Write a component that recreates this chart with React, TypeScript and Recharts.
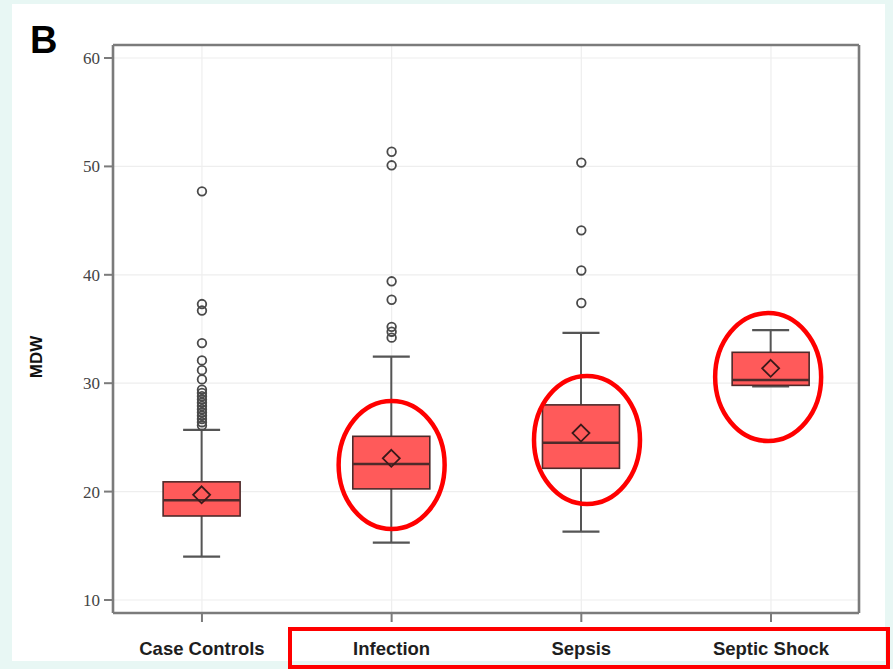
import React from 'react';
import {
  ComposedChart,
  Bar,
  Scatter,
  XAxis,
  YAxis,
  CartesianGrid,
  ReferenceLine,
  ReferenceDot,
} from 'recharts';

// Groups and five-number summaries of MDW
const categories = ['Case Controls', 'Infection', 'Sepsis', 'Septic Shock'];
const whiskerLow = [14.0, 15.3, 16.3, 29.7];
const q1 = [17.75, 20.25, 22.15, 29.8];
const medians = [19.2, 22.55, 24.5, 30.3];
const q3 = [20.9, 25.1, 28.0, 32.85];
const whiskerHigh = [25.7, 32.45, 34.65, 34.9];
const means = [19.7, 23.07, 25.4, 31.37];

// Outlying observations per group
const controlOutliers = [
  26.1, 26.4, 26.7, 27.0, 27.3, 27.6, 27.9, 28.2, 28.5, 28.8, 29.1, 29.4,
  30.35, 31.2, 32.1, 33.7, 36.7, 37.3, 47.7,
];
const infectionOutliers = [34.2, 34.75, 35.2, 37.7, 39.4, 50.1, 51.35];
const sepsisOutliers = [37.4, 40.4, 44.1, 50.35];
const shockOutliers: number[] = [];

const yTicks = [10, 20, 30, 40, 50, 60];

// Highlighted groups (circled) and where each ring sits
const highlightGroups = ['Infection', 'Sepsis', 'Septic Shock'];
const highlightCenters = [22.45, 24.76, 30.57];
const highlightShift = [0, 0.03, -0.015];

const Y_MIN = 8.8;
const Y_MAX = 61.2;
const X_MIN = 0.531;
const X_MAX = 4.464;

const boxData = categories.map((name, i) => ({
  name,
  pos: i + 1,
  lo: whiskerLow[i],
  q1: q1[i],
  med: medians[i],
  q3: q3[i],
  hi: whiskerHigh[i],
  mean: means[i],
}));

const outlierData = [controlOutliers, infectionOutliers, sepsisOutliers, shockOutliers].flatMap(
  (list, i) => list.map((value) => ({ pos: i + 1, value }))
);

const highlightData = highlightGroups.map((g, i) => ({
  pos: categories.indexOf(g) + 1 + highlightShift[i],
  value: highlightCenters[i],
}));

const FRAME = '#7b7b7b';
const BOX_FILL = '#ff5a5a';
const BOX_EDGE = '#4e2a2a';
const WHISKER = '#555555';

const BoxShape = (props: any) => {
  const { x, y, width, height, payload } = props;
  if (!payload || height == null) return null;
  const hi = payload.hi;
  const lo = payload.lo;
  const toPx = (v: number) => y + ((hi - v) / (hi - lo)) * height;
  const cx = x + width / 2;
  const capHalf = 18.5;
  const yTop = toPx(payload.q3);
  const yBot = toPx(payload.q1);
  const yMed = toPx(payload.med);
  const yMean = toPx(payload.mean);
  const yHi = toPx(hi);
  const yLo = toPx(lo);
  const d = 8.5;
  return (
    <g>
      <line x1={cx} x2={cx} y1={yHi} y2={yTop} stroke={WHISKER} strokeWidth={2} />
      <line x1={cx} x2={cx} y1={yBot} y2={yLo} stroke={WHISKER} strokeWidth={2} />
      <line x1={cx - capHalf} x2={cx + capHalf} y1={yHi} y2={yHi} stroke={WHISKER} strokeWidth={2.2} />
      <line x1={cx - capHalf} x2={cx + capHalf} y1={yLo} y2={yLo} stroke={WHISKER} strokeWidth={2.2} />
      <rect
        x={x}
        y={yTop}
        width={width}
        height={Math.max(yBot - yTop, 0)}
        fill={BOX_FILL}
        stroke={BOX_EDGE}
        strokeWidth={1.6}
      />
      <line x1={x} x2={x + width} y1={yMed} y2={yMed} stroke={BOX_EDGE} strokeWidth={2.4} />
      <path
        d={`M ${cx} ${yMean - d} L ${cx + d} ${yMean} L ${cx} ${yMean + d} L ${cx - d} ${yMean} Z`}
        fill="none"
        stroke="#3a1a1a"
        strokeWidth={1.8}
      />
    </g>
  );
};

const OutlierShape = (props: any) => {
  const { cx, cy } = props;
  if (cx == null || cy == null) return null;
  return <circle cx={cx} cy={cy} r={4.3} fill="none" stroke="#4a4a4a" strokeWidth={1.8} />;
};

const RingShape = (props: any) => {
  const { cx, cy } = props;
  if (cx == null || cy == null) return null;
  return <ellipse cx={cx} cy={cy} rx={53} ry={64} fill="none" stroke="#ff0000" strokeWidth={4.5} />;
};

export default function App() {
  return (
    <div
      style={{
        position: 'absolute',
        left: 0,
        top: 0,
        width: 893,
        height: 669,
        background: '#e8f7f4',
        overflow: 'hidden',
      }}
    >
      <div
        style={{
          position: 'absolute',
          left: 12,
          top: 4,
          width: 873,
          height: 657,
          background: '#ffffff',
        }}
      />
      <div style={{ position: 'absolute', left: 0, top: 0 }}>
        <ComposedChart
          width={893}
          height={669}
          data={boxData}
          margin={{ top: 45, right: 34, bottom: 16, left: 33 }}
        >
          <CartesianGrid stroke="#eeeeee" strokeWidth={1.2} />
          <XAxis
            dataKey="pos"
            type="number"
            domain={[X_MIN, X_MAX]}
            ticks={[1, 2, 3, 4]}
            interval={0}
            allowDataOverflow
            height={40}
            tickFormatter={(v: number) => categories[v - 1] ?? ''}
            tick={{ fontFamily: 'Liberation Sans, Arial, sans-serif', fontSize: 18.5, fontWeight: 700, fill: '#1e1e1e' }}
            tickSize={9}
            tickMargin={20}
            tickLine={{ stroke: FRAME, strokeWidth: 2 }}
            axisLine={{ stroke: FRAME, strokeWidth: 2.6 }}
          />
          <YAxis
            type="number"
            domain={[Y_MIN, Y_MAX]}
            ticks={yTicks}
            interval={0}
            allowDataOverflow
            width={80}
            tick={{ fontFamily: 'Liberation Serif, Times New Roman, serif', fontSize: 17, fill: '#444' }}
            tickSize={9}
            tickMargin={4}
            tickLine={{ stroke: FRAME, strokeWidth: 2 }}
            axisLine={{ stroke: FRAME, strokeWidth: 2.6 }}
          />
          <ReferenceLine y={Y_MAX} stroke={FRAME} strokeWidth={2.6} ifOverflow="visible" />
          <ReferenceLine x={X_MAX} stroke={FRAME} strokeWidth={2.6} ifOverflow="visible" />
          <Bar
            dataKey={(d: any) => [d.lo, d.hi]}
            barSize={77}
            shape={BoxShape}
            isAnimationActive={false}
          />
          <Scatter
            data={outlierData}
            dataKey="value"
            shape={OutlierShape}
            isAnimationActive={false}
          />
          {highlightData.map((h, i) => (
            <ReferenceDot
              key={i}
              x={h.pos}
              y={h.value}
              r={1}
              ifOverflow="visible"
              shape={RingShape}
            />
          ))}
        </ComposedChart>
      </div>
      <div
        style={{
          position: 'absolute',
          left: 30,
          top: 18,
          fontFamily: 'Liberation Sans, Arial, sans-serif',
          fontWeight: 700,
          fontSize: 38,
          lineHeight: '44px',
          color: '#000',
        }}
      >
        B
      </div>
      <div
        style={{
          position: 'absolute',
          left: 37,
          top: 357,
          transform: 'translate(-50%, -50%) rotate(-90deg)',
          fontFamily: 'Liberation Sans, Arial, sans-serif',
          fontWeight: 700,
          fontSize: 17,
          color: '#111',
          whiteSpace: 'nowrap',
        }}
      >
        MDW
      </div>
      <div
        style={{
          position: 'absolute',
          left: 288,
          top: 627,
          width: 602,
          height: 42,
          border: '4px solid #ff0000',
          boxSizing: 'border-box',
        }}
      />
    </div>
  );
}
